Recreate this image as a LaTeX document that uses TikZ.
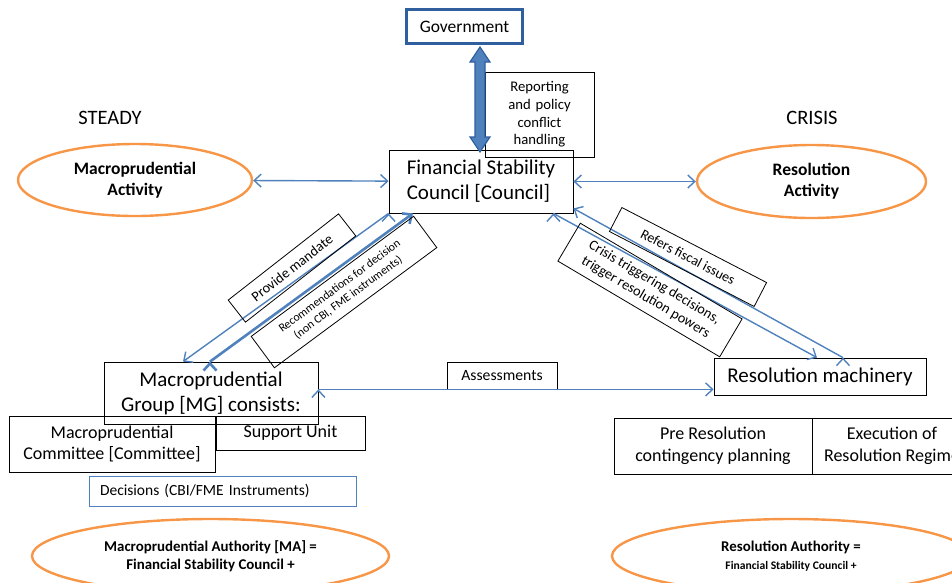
\documentclass[tikz,border=0pt]{standalone}
\usepackage{fontspec}
\setmainfont{Carlito}
\usetikzlibrary{arrows.meta,shapes.geometric}
\definecolor{linkblue}{HTML}{4F81BD}
\definecolor{govblue}{HTML}{2F5F9E}
\definecolor{ovalorange}{HTML}{F79646}
\newcommand{\fsz}[1]{\fontsize{#1}{1.2\dimexpr #1pt\relax}\selectfont}
\tikzset{
  box/.style={shape=rectangle, draw=black, line width=0.8pt, inner sep=1pt, align=center},
  oval/.style={shape=ellipse, draw=ovalorange, line width=2.4pt, inner sep=0pt, align=center},
  link/.style={draw=linkblue, line width=1.4pt},
  barb/.tip={Straight Barb[length=7pt,width=13pt]},
}

\begin{document}
\begin{tikzpicture}[x=1pt, y=-1pt]
\useasboundingbox (0,0) rectangle (952,582);
\clip (0,0) rectangle (952,582);

% top
\node[box, draw=govblue, line width=3pt, minimum width=116pt, minimum height=34pt, font=\fsz{17.5}](gov) at (464.5,26.5) {Government};
\node[box, minimum width=184pt, minimum height=63pt, align=left, font=\fsz{21}](council) at (481,181.5) {Financial Stability\\Council [Council]};
\node[box, minimum width=109pt, minimum height=85pt, font=\fsz{14.7}, text width=100pt](report) at (539.5,114.5) {Reporting\\and policy\\conflict\\handling};
% double block arrow, gov <-> council
\coordinate (govtip) at ([xshift=15.5pt,yshift=-2pt]gov.south);
\draw[fill=linkblue, draw=govblue, line width=1.2pt, line join=miter] (govtip) -- ++(10,15) -- ++(-5,0) -- ++(0,75) -- ++(5,0) -- ++(-10,15)
  -- ++(-10,-15) -- ++(5,0) -- ++(0,-75) -- ++(-5,0) -- cycle;

\node[font=\fsz{20.5}](steady) at (110,118) {STEADY};
\node[font=\fsz{20.5}](crisis) at (812,118) {CRISIS};
\node[oval, minimum width=234pt, minimum height=72pt, font=\bfseries\fsz{17.5}](macroact) at (135,180) {Macroprudential\\Activity};
\node[oval, minimum width=229pt, minimum height=73pt, font=\bfseries\fsz{17.5}](resact) at (811.5,181.5) {Resolution\\Activity};
\path[link, barb-barb] (macroact) edge (council);
\path[link, barb-barb] (council) edge (resact);

% left side
\node[box, minimum width=214pt, minimum height=62pt, font=\fsz{21}](mg) at (211,393) {Macroprudential\\Group [MG] consists:};
\node[box, minimum width=206pt, minimum height=56pt, font=\fsz{18}](committee) at (112,444) {Macroprudential\\Committee [Committee]};
\node[box, minimum width=149pt, minimum height=34pt, font=\fsz{18}](support) at (290.5,433) {Support Unit};
\node[box, draw=linkblue, minimum width=267pt, minimum height=30pt, text width=245pt, align=left, font=\fsz{15.5}](decisions) at (222.5,491) {Decisions (CBI/FME Instruments)};
\node[oval, minimum width=357pt, minimum height=74pt, font=\bfseries\fsz{14.9}](maauth) at (210.5,556) {Macroprudential Authority [MA] =\\Financial Stability Council +};

\path[link, -barb] (council.south west) edge ([xshift=-28pt]mg.north);
\path[link, line width=2.6pt, -barb] ([xshift=-1pt]mg.north) edge ([xshift=-68pt]council.south);
\node[box, rotate=38, minimum width=140pt, minimum height=28pt, font=\fsz{14.3}](mandate) at (292,268) {Provide mandate};
\node[box, rotate=36.5, minimum width=202pt, minimum height=39pt, font=\fsz{11.8}](recommend) at (344,292) {Recommendations for decision\\(non CBI, FME instruments)};

% right side
\node[box, minimum width=212pt, minimum height=37pt, font=\fsz{21}](resmach) at (820,376.5) {Resolution machinery};
\node[box, minimum width=198pt, minimum height=56pt, font=\fsz{18}](preres) at (713,446) {Pre Resolution\\contingency planning};
\node[box, minimum width=160pt, minimum height=56pt, font=\fsz{18}](execres) at (892,446) {Execution of\\Resolution Regime};
\node[oval, minimum width=358pt, minimum height=74pt, font=\bfseries\fsz{14.9}](rsauth) at (791,556) {Resolution Authority =\\{\fsz{11.6}Financial Stability Council +}};

\path[link, -barb] ([xshift=23pt]resmach.north) edge ([yshift=5pt]council.south east);
\path[link, -barb] ([xshift=-20pt]council.south east) edge ([xshift=-3pt]resmach.north);
\node[box, rotate=-27.4, minimum width=163pt, minimum height=27pt, font=\fsz{14}](fiscal) at (688,257) {Refers fiscal issues};
\node[box, rotate=-30.6, minimum width=188pt, minimum height=44pt, font=\fsz{14.3}](trigger) at (650,290) {Crisis triggering decisions,\\trigger resolution powers};

% middle
\node[box, minimum width=110pt, minimum height=27pt, font=\fsz{15.7}](assess) at (502,375.5) {Assessments};
\path[link, -barb] (mg.east |- assess.south) edge (resmach.west |- assess.south);
\end{tikzpicture}
\end{document}
